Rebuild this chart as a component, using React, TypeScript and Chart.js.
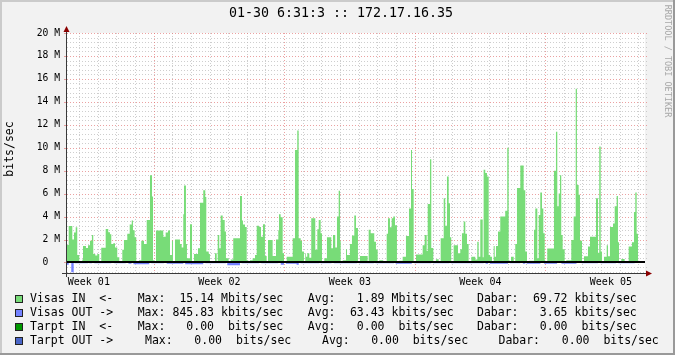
import React, { useEffect, useRef } from 'react';
import { Chart, registerables } from 'chart.js';

Chart.register(...registerables);

// ---------- texts ----------
const TITLE = '01-30 6:31:3 :: 172.17.16.35';
const Y_AXIS_TITLE = 'bits/sec';
const WATERMARK = 'RRDTOOL / TOBI OETIKER';

// ---------- x axis (hours from Monday 00:00 of week 01) ----------
const WEEK_LABELS = ['Week 01', 'Week 02', 'Week 03', 'Week 04', 'Week 05'];
const WEEK_LABEL_HOURS = [84, 252, 420, 588, 756];
const X_MIN = 55.9;
const X_MAX = 799.9;

// ---------- y axis ----------
const Y_TICKS_M = [0, 2, 4, 6, 8, 10, 12, 14, 16, 18, 20];
const Y_MIN_M = -0.92;
const Y_MAX_M = 20;

// ---------- series: [hour, Mbit/s] step points ----------
const visasIn: [number, number][] = [
  [50, 0],
  [58.1, 1.53], [62.7, 3.18], [64.9, 2.0], [67.1, 2.6], [69.1, 3.07], [71.7, 0.65], [75.6, 0],
  [76.5, 0.25], [80.3, 1.44], [82.9, 1.25], [85.5, 1.5], [88.0, 1.9], [89.7, 2.4], [92.3, 0.74], [94.9, 0.6], [97.4, 0.74], [100.0, 0],
  [105.7, 1.29], [109.0, 2.92], [111.2, 2.63], [112.9, 2.46], [115.5, 1.6], [117.7, 1.67], [120.6, 1.3], [123.2, 0.45], [127.1, 0],
  [129.2, 1.1], [133.5, 1.96], [136.6, 2.5], [139.2, 3.3], [140.8, 3.65], [143.0, 2.8], [145.1, 2.2], [148.5, 0],
  [151.5, 0.2], [155.0, 1.9], [158.5, 1.6], [162.7, 3.7], [165.3, 7.6], [166.6, 5.75], [168.8, 0.2], [170.4, 0],
  [179.8, 2.78], [182.9, 2.25], [185.9, 2.6], [188.5, 2.78], [191.0, 0.65], [192.3, 1.9], [194.9, 0],
  [201.3, 2.0], [203.5, 1.6], [205.6, 1.3], [206.5, 4.2], [209.0, 6.7], [210.3, 1.6], [214.2, 0.36], [216.8, 3.33], [219.3, 0],
  [224.5, 0.74], [227.1, 1.24], [231.3, 5.2], [233.9, 6.3], [235.2, 5.7], [238.3, 0.95], [239.9, 0.74], [242.5, 0],
  [246.4, 0.1], [248.6, 0.8], [249.9, 0], [251.9, 2.4], [253.7, 1.24], [256.3, 4.1], [258.9, 3.7], [260.5, 2.7], [264.0, 0.36], [266.6, 0],
  [269.9, 0.25], [278.6, 2.1], [281.1, 5.8], [282.4, 3.65], [285.0, 3.3], [287.2, 3.1], [289.2, 0.2], [291.4, 0],
  [294.9, 0.2], [297.9, 0.36], [300.1, 0.65], [303.0, 3.2], [305.6, 3.1], [308.2, 2.25], [310.7, 3.33], [312.9, 0.57], [314.6, 0],
  [320.6, 1.96], [324.9, 0.57], [327.9, 2.0], [328.8, 2.8], [330.9, 4.2], [333.5, 3.94], [335.2, 0.8], [338.7, 0],
  [346.4, 0.5], [349.4, 2.1], [352.3, 9.8], [354.1, 11.5], [356.7, 2.1], [358.4, 1.9], [360.9, 0.95], [362.6, 0],
  [363.5, 0.8], [365.2, 0.5], [367.8, 0.8], [370.3, 0.42], [375.5, 3.85], [378.1, 1.1], [379.9, 2.9], [382.4, 3.7], [384.1, 2.55], [387.1, 0],
  [390.5, 0.36], [396.1, 2.2], [398.3, 1.24], [401.2, 2.4], [403.4, 1.3], [405.6, 4.0], [407.3, 6.24], [408.2, 1.9], [410.8, 0],
  [415.0, 0.2], [416.3, 1.15], [420.1, 0.65], [422.7, 1.6], [425.7, 2.35], [427.9, 4.1], [430.4, 3.0], [433.0, 0],
  [442.9, 0.57], [444.2, 0], [446.8, 2.85], [451.4, 2.55], [453.6, 1.8], [455.8, 1.1], [457.9, 0],
  [463.0, 0.2], [467.4, 0], [469.1, 2.5], [471.6, 3.85], [473.8, 3.07], [475.9, 3.85], [478.1, 4.0], [480.6, 3.24], [483.6, 0],
  [488.0, 0.15], [492.2, 0.5], [496.1, 2.3], [498.7, 4.7], [500.0, 9.8], [502.1, 6.4], [505.1, 0],
  [513.7, 0.7], [516.3, 1.5], [518.9, 2.4], [520.2, 1.0], [523.1, 5.1], [524.8, 9.0], [527.4, 1.26], [530.8, 0], [534.3, 0.28], [536.9, 0],
  [540.8, 2.1], [542.8, 5.6], [545.0, 3.2], [547.2, 7.5], [548.9, 5.16], [550.5, 2.2], [553.6, 0],
  [559.2, 1.5], [562.1, 0.8], [564.3, 1.15], [566.5, 2.55], [568.6, 3.56], [570.8, 2.5], [572.9, 1.6], [576.3, 0],
  [581.4, 0.5], [584.0, 0.25], [585.8, 1.8], [587.9, 0.5], [591.0, 3.75], [592.2, 0.45], [594.3, 8.07], [596.5, 7.8], [598.7, 7.5], [600.7, 0.65], [602.9, 0.5], [605.1, 0],
  [606.4, 1.44], [608.1, 0.5], [610.7, 1.44], [613.6, 2.7], [620.0, 4.0], [622.6, 4.5], [624.4, 10.0], [625.7, 0.2], [627.4, 0],
  [630.9, 0.5], [632.9, 0], [635.1, 1.6], [639.4, 6.5], [643.7, 8.45], [645.8, 6.3], [648.0, 0.95], [650.9, 0],
  [657.0, 0.15], [658.7, 2.84], [661.3, 4.7], [663.1, 0.36], [665.1, 4.14], [667.3, 6.1], [669.0, 4.7], [670.8, 2.55], [671.5, 0.2], [674.1, 0],
  [682.7, 1.22], [685.3, 8.0], [687.0, 11.4], [688.8, 4.9], [690.5, 6.0], [692.1, 7.6], [693.9, 2.4], [696.5, 1.15], [698.6, 0],
  [705.0, 0.2], [708.1, 1.96], [710.7, 4.0], [712.3, 15.14], [714.5, 6.76], [716.2, 5.9], [718.8, 1.9], [721.4, 0],
  [726.5, 0.55], [729.1, 1.4], [736.8, 2.25], [739.4, 5.6], [741.0, 0.85], [742.9, 10.1], [744.5, 0.95], [747.1, 0],
  [750.6, 0.5], [752.3, 1.5], [754.8, 0.55], [758.7, 3.1], [760.9, 3.4], [763.4, 4.9], [765.1, 5.8], [766.4, 1.76], [769.4, 0],
  [773.7, 0.3], [778.9, 0], [783.1, 1.4], [785.7, 1.76], [787.4, 4.4], [789.2, 6.1], [790.9, 2.5], [792.5, 0.15], [805, 0],
];

const visasOut: [number, number][] = [
  [50, 0], [58.1, 0.2], [61.4, 0], [64.5, 0.846], [65.8, 0], 
  [82.9, 0.08], [84.6, 0], [88.0, 0.08], [91.0, 0],
  [112.9, 0.08], [116.8, 0], [131.5, 0.08], [135.0, 0], [138.9, 0.12], [141.4, 0],
  [161.8, 0.15], [164.3, 0], [180.7, 0.08], [184.2, 0],
  [205.6, 0.12], [208.0, 0], [231.3, 0.15], [234.0, 0],
  [260.5, 0.08], [262.2, 0], [278.6, 0.25], [280.6, 0],
  [303.0, 0.08], [305.9, 0], [327.8, 0.08], [331.0, 0], [335.2, 0.2], [337.7, 0],
  [351.4, 0.12], [354.2, 0.2], [356.6, 0], [380.6, 0.08], [382.3, 0],
  [396.4, 0.08], [399.4, 0], [429.2, 0.08], [431.6, 0], [451.0, 0.08], [453.1, 0],
  [476.8, 0.08], [478.9, 0], [499.7, 0.12], [502.9, 0], [524.8, 0.08], [526.9, 0],
  [548.0, 0.08], [550.0, 0], [592.2, 0.08], [594.7, 0], [597.8, 0.12], [600.3, 0],
  [623.5, 0.12], [626.0, 0], [639.4, 0.08], [642.7, 0], [645.8, 0.12], [647.5, 0],
  [665.3, 0.12], [669.8, 0], [686.7, 0.12], [692.3, 0], [711.7, 0.12], [718.4, 0],
  [739.4, 0.08], [742.6, 0], [762.6, 0.08], [765.5, 0], [786.6, 0.08], [790.8, 0], [805, 0],
];

// ---------- legend ----------
const LEGEND_NAMES = ['Visas IN  <-', 'Visas OUT ->', 'Tarpt IN  <-', 'Tarpt OUT ->'];
const LEGEND_MAX = [' 15.14 Mbits/sec', '845.83 kbits/sec', '  0.00  bits/sec', '  0.00  bits/sec'];
const LEGEND_AVG = ['  1.89 Mbits/sec', ' 63.43 kbits/sec', '  0.00  bits/sec', '  0.00  bits/sec'];
const LEGEND_CUR = [' 69.72 kbits/sec', '  3.65 kbits/sec', '  0.00  bits/sec', '  0.00  bits/sec'];

// ---------- styles ----------
const IN_COLOR = '#78DC78';
const OUT_COLOR = '#7482FF';
const LEGEND_COLORS = [IN_COLOR, OUT_COLOR, '#009900', '#4A66C8'];
const BG = '#F2F2F2';
const SHADE_A = '#CBCBCB';
const SHADE_B = '#999999';
const GRID = 'rgba(185,185,185,0.7)';
const MGRID = 'rgba(225,110,110,0.65)';
const AXIS = '#3A3A3A';
const ARROW = '#8B0000';
const MONO = "'DejaVu Sans Mono', monospace";

const rrdPlugin = {
  id: 'rrdLook',
  beforeDraw(chart: any) {
    const { ctx, width, height, chartArea: a } = chart;
    ctx.save();
    ctx.fillStyle = BG;
    ctx.fillRect(0, 0, width, height);
    ctx.fillStyle = SHADE_A;
    ctx.fillRect(0, 0, width, 2);
    ctx.fillRect(0, 0, 2, height);
    ctx.fillStyle = SHADE_B;
    ctx.fillRect(0, height - 2, width, 2);
    ctx.fillRect(width - 2, 0, 2, height);
    ctx.fillStyle = '#FFFFFF';
    ctx.fillRect(a.left, a.top, a.right - a.left, a.bottom - a.top);
    ctx.restore();
  },
  beforeDatasetsDraw(chart: any) {
    const { ctx, chartArea: a, scales } = chart;
    const xs = scales.x;
    const ys = scales.y;
    ctx.save();
    ctx.lineWidth = 1;
    ctx.setLineDash([1, 2]);
    const drawH = (vM: number, color: string) => {
      const py = Math.round(ys.getPixelForValue(vM * 1e6)) + 0.5;
      ctx.strokeStyle = color;
      ctx.beginPath();
      ctx.moveTo(a.left, py);
      ctx.lineTo(a.right + 2, py);
      ctx.stroke();
    };
    const drawV = (h: number, color: string) => {
      const px = Math.floor(xs.getPixelForValue(h)) + 0.5;
      ctx.strokeStyle = color;
      ctx.beginPath();
      ctx.moveTo(px, a.top);
      ctx.lineTo(px, a.bottom);
      ctx.stroke();
    };
    for (let k = -2; k <= 50; k++) {
      if (k % 5 === 0) continue;
      const v = k * 0.4;
      if (v < Y_MIN_M || v > Y_MAX_M) continue;
      drawH(v, GRID);
    }
    for (let h = 24; h < X_MAX; h += 24) {
      if (h < X_MIN || h % 168 === 0) continue;
      drawV(h, GRID);
    }
    for (const v of Y_TICKS_M) {
      if (v === 0) continue;
      drawH(v, MGRID);
    }
    for (let h = 168; h < X_MAX; h += 168) drawV(h, MGRID);
    ctx.restore();
  },
  afterDatasetsDraw(chart: any) {
    const { ctx, chartArea: a, scales } = chart;
    const ys = scales.y;
    ctx.save();
    const y0 = Math.round(ys.getPixelForValue(0));
    ctx.fillStyle = '#000000';
    ctx.fillRect(a.left, y0 - 1, a.right - a.left, 2);
    ctx.strokeStyle = MGRID;
    ctx.lineWidth = 1;
    for (const v of Y_TICKS_M) {
      const py = Math.round(ys.getPixelForValue(v * 1e6)) + 0.5;
      ctx.beginPath();
      ctx.moveTo(a.left - 3, py);
      ctx.lineTo(a.left, py);
      ctx.stroke();
    }
    ctx.strokeStyle = AXIS;
    const ax = a.left - 0.5;
    const ay = a.bottom + 0.5;
    ctx.beginPath();
    ctx.moveTo(ax, a.bottom + 4);
    ctx.lineTo(ax, a.top - 4);
    ctx.stroke();
    ctx.beginPath();
    ctx.moveTo(a.left - 5, ay);
    ctx.lineTo(a.right + 3, ay);
    ctx.stroke();
    ctx.fillStyle = ARROW;
    ctx.beginPath();
    ctx.moveTo(ax, a.top - 7);
    ctx.lineTo(ax - 3, a.top - 1);
    ctx.lineTo(ax + 3, a.top - 1);
    ctx.closePath();
    ctx.fill();
    ctx.beginPath();
    ctx.moveTo(a.right + 7, ay);
    ctx.lineTo(a.right + 1, ay - 3);
    ctx.lineTo(a.right + 1, ay + 3);
    ctx.closePath();
    ctx.fill();
    ctx.restore();
  },
  afterDraw(chart: any) {
    const { ctx } = chart;
    ctx.save();
    ctx.fillStyle = '#000000';
    ctx.textBaseline = 'middle';
    ctx.font = `13.3px ${MONO}`;
    ctx.textAlign = 'center';
    ctx.fillText(TITLE, 341, 14);
    ctx.save();
    ctx.translate(10, 149);
    ctx.rotate(-Math.PI / 2);
    ctx.font = `11.5px ${MONO}`;
    ctx.fillText(Y_AXIS_TITLE, 0, 0);
    ctx.restore();
    ctx.save();
    ctx.translate(667, 61);
    ctx.rotate(Math.PI / 2);
    ctx.font = `8.5px ${MONO}`;
    ctx.fillStyle = '#A8A8A8';
    ctx.fillText(WATERMARK, 0, 0);
    ctx.restore();
    ctx.font = `11.5px ${MONO}`;
    ctx.textAlign = 'left';
    const cols = [
      [137.7, 172.5, 307.8, 343, 477, 526],
      [137.7, 172.5, 307.8, 343, 477, 526],
      [137.7, 172.5, 307.8, 343, 477, 526],
      [145, 180.5, 322, 357.3, 498.5, 548],
    ];
    for (let i = 0; i < LEGEND_NAMES.length; i++) {
      const y = 299 + 14 * i;
      ctx.fillStyle = LEGEND_COLORS[i];
      ctx.fillRect(15, y - 4, 8, 8);
      ctx.strokeStyle = '#222222';
      ctx.lineWidth = 1;
      ctx.strokeRect(15.5, y - 3.5, 7, 7);
      ctx.fillStyle = '#000000';
      const c = cols[i];
      ctx.fillText(LEGEND_NAMES[i], 30, y);
      ctx.fillText('Max:', c[0], y);
      ctx.fillText(LEGEND_MAX[i], c[1], y);
      ctx.fillText('Avg:', c[2], y);
      ctx.fillText(LEGEND_AVG[i], c[3], y);
      ctx.fillText('Dabar:', c[4], y);
      ctx.fillText(LEGEND_CUR[i], c[5], y);
    }
    ctx.restore();
  },
};

export default function App() {
  const ref = useRef<HTMLCanvasElement | null>(null);
  useEffect(() => {
    document.body.style.margin = '0';
    const canvas = ref.current;
    if (!canvas) return;
    const chart = new Chart(canvas, {
      type: 'line',
      data: {
        datasets: [
          {
            label: 'Visas IN',
            data: visasIn.map(([h, v]) => ({ x: h, y: v * 1e6 })),
            stepped: 'after',
            fill: 'origin',
            backgroundColor: IN_COLOR,
            borderColor: 'rgba(0,0,0,0)',
            borderWidth: 0,
            pointRadius: 0,
          },
          {
            label: 'Visas OUT',
            data: visasOut.map(([h, v]) => ({ x: h, y: -v * 1e6 })),
            stepped: 'after',
            fill: 'origin',
            backgroundColor: OUT_COLOR,
            borderColor: 'rgba(0,0,0,0)',
            borderWidth: 0,
            pointRadius: 0,
          },
        ],
      },
      options: {
        responsive: false,
        animation: false,
        devicePixelRatio: 1,
        events: [],
        layout: { padding: { left: 0, top: 33, right: 30, bottom: 0 } },
        plugins: {
          legend: { display: false },
          tooltip: { enabled: false },
          title: { display: false },
        },
        scales: {
          x: {
            type: 'linear',
            min: X_MIN,
            max: X_MAX,
            grid: { display: false, drawTicks: false, tickLength: 0 },
            border: { display: false },
            afterBuildTicks: (s: any) => {
              s.ticks = WEEK_LABEL_HOURS.map((value) => ({ value }));
            },
            afterFit: (s: any) => {
              s.height = 82;
            },
            ticks: {
              autoSkip: false,
              maxRotation: 0,
              minRotation: 0,
              padding: 3,
              color: '#000000',
              font: { family: MONO, size: 10 },
              callback: (_v: any, i: number) => WEEK_LABELS[i],
            },
          },
          y: {
            type: 'linear',
            min: Y_MIN_M * 1e6,
            max: Y_MAX_M * 1e6,
            grid: { display: false, drawTicks: false, tickLength: 0 },
            border: { display: false },
            afterBuildTicks: (s: any) => {
              s.ticks = Y_TICKS_M.map((v) => ({ value: v * 1e6 }));
            },
            afterFit: (s: any) => {
              s.width = 67;
            },
            ticks: {
              padding: 7,
              color: '#000000',
              font: { family: MONO, size: 9.7 },
              callback: (v: any) => (Number(v) === 0 ? '0  ' : `${Math.round(Number(v) / 1e6)} M`),
            },
          },
        },
      },
      plugins: [rrdPlugin],
    } as any);
    return () => chart.destroy();
  }, []);
  return (
    <div style={{ position: 'absolute', left: 0, top: 0, width: 675, height: 355 }}>
      <canvas ref={ref} width={675} height={355} style={{ display: 'block', width: 675, height: 355 }} />
    </div>
  );
}
